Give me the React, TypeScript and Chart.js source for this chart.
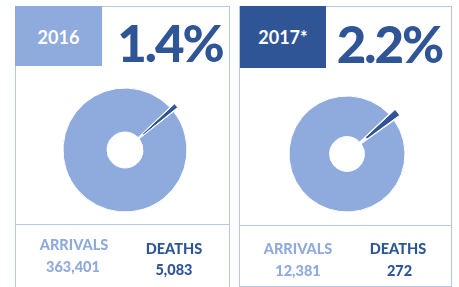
import React, { useEffect, useRef } from "react";
import { Chart, registerables } from "chart.js";

Chart.register(...registerables);

const years = ["2016", "2017*"];
const percentLabels = ["1.4%", "2.2%"];
const arrivals = [363401, 12381];
const deaths = [5083, 272];
const arrivalLabels = ["363,401", "12,381"];
const deathLabels = ["5,083", "272"];

const LIGHT = "#8FAADC";
const DARK = "#2F5597";
const LINE = "#B4C7E7";
const FONT = "Lato, 'Open Sans', sans-serif";

type PieProps = {
  idx: number;
  left: number;
  top: number;
  size: number;
  radius: number;
  cutout: string;
  offset: number;
  rotation: number;
};

function Pie({ idx, left, top, size, radius, cutout, offset, rotation }: PieProps) {
  const ref = useRef<HTMLCanvasElement | null>(null);
  useEffect(() => {
    if (!ref.current) return;
    const chart = new Chart(ref.current, {
      type: "doughnut",
      data: {
        labels: ["Deaths", "Arrivals"],
        datasets: [
          {
            data: [deaths[idx], arrivals[idx] - deaths[idx]],
            backgroundColor: [DARK, LIGHT],
            borderColor: "#ffffff",
            borderWidth: 1,
            offset: [offset, 0],
            hoverOffset: 0,
          },
        ],
      },
      options: {
        animation: false,
        responsive: false,
        events: [],
        radius: radius,
        cutout: cutout,
        rotation: rotation,
        plugins: { legend: { display: false }, tooltip: { enabled: false } },
      },
    });
    return () => chart.destroy();
  }, [idx]);
  return (
    <canvas
      ref={ref}
      width={size}
      height={size}
      style={{ position: "absolute", left, top, width: size, height: size }}
    />
  );
}

function T({
  cx,
  base,
  size,
  color,
  text,
  ls = 0,
  weight = 900,
}: {
  cx: number;
  base: number;
  size: number;
  color: string;
  text: string;
  ls?: number;
  weight?: number;
}) {
  return (
    <div
      style={{
        position: "absolute",
        left: cx - 150,
        width: 300,
        top: base - 0.887 * size,
        fontSize: size,
        lineHeight: `${size}px`,
        fontWeight: weight,
        fontFamily: FONT,
        color,
        textAlign: "center",
        whiteSpace: "nowrap",
        letterSpacing: ls,
      }}
    >
      {text}
    </div>
  );
}

const box = (l: number, t: number, w: number, h: number, extra: React.CSSProperties) => ({
  position: "absolute" as const,
  left: l,
  top: t,
  width: w,
  height: h,
  boxSizing: "border-box" as const,
  ...extra,
});

export default function App() {
  return (
    <div
      style={{
        position: "absolute",
        left: 0,
        top: 0,
        width: 459,
        height: 287,
        background: "#fff",
        overflow: "hidden",
      }}
    >
      <div style={box(15, 6, 215, 295, { border: `1px solid ${LINE}` })} />
      <div style={box(239, 6, 213, 281, { border: `1px solid ${LINE}` })} />
      <div style={box(15, 224, 215, 1, { background: LINE })} />
      <div style={box(239, 225, 213, 1, { background: LINE })} />
      <div style={box(15, 6, 87, 60, { background: LIGHT })} />
      <div style={box(240, 6, 86, 62, { background: DARK })} />
      <T cx={58.5} base={43.5} size={18} color="#fff" text={years[0]} weight={700} />
      <T cx={283} base={44} size={18} color="#fff" text={years[1]} weight={700} />
      <T cx={170} base={62} size={51} color={DARK} text={percentLabels[0]} ls={-2} />
      <T cx={389.5} base={63} size={51} color={DARK} text={percentLabels[1]} ls={-2} />

      <Pie idx={0} left={35} top={60} size={180} radius={62} cutout="29%" offset={12} rotation={46.5} />
      <Pie idx={1} left={257} top={64} size={180} radius={58} cutout="30%" offset={16} rotation={46.5} />

      <T cx={74} base={250.5} size={14.5} color={LIGHT} text="ARRIVALS" />
      <T cx={73} base={272.5} size={14.5} color={LIGHT} text={arrivalLabels[0]} />
      <T cx={174} base={255} size={14.5} color={DARK} text="DEATHS" />
      <T cx={174} base={276} size={14.5} color={DARK} text={deathLabels[0]} />

      <T cx={298} base={255} size={14.5} color={LIGHT} text="ARRIVALS" />
      <T cx={298} base={276.5} size={14.5} color={LIGHT} text={arrivalLabels[1]} />
      <T cx={398} base={255} size={14.5} color={DARK} text="DEATHS" />
      <T cx={399.5} base={276.5} size={14.5} color={DARK} text={deathLabels[1]} />
    </div>
  );
}
